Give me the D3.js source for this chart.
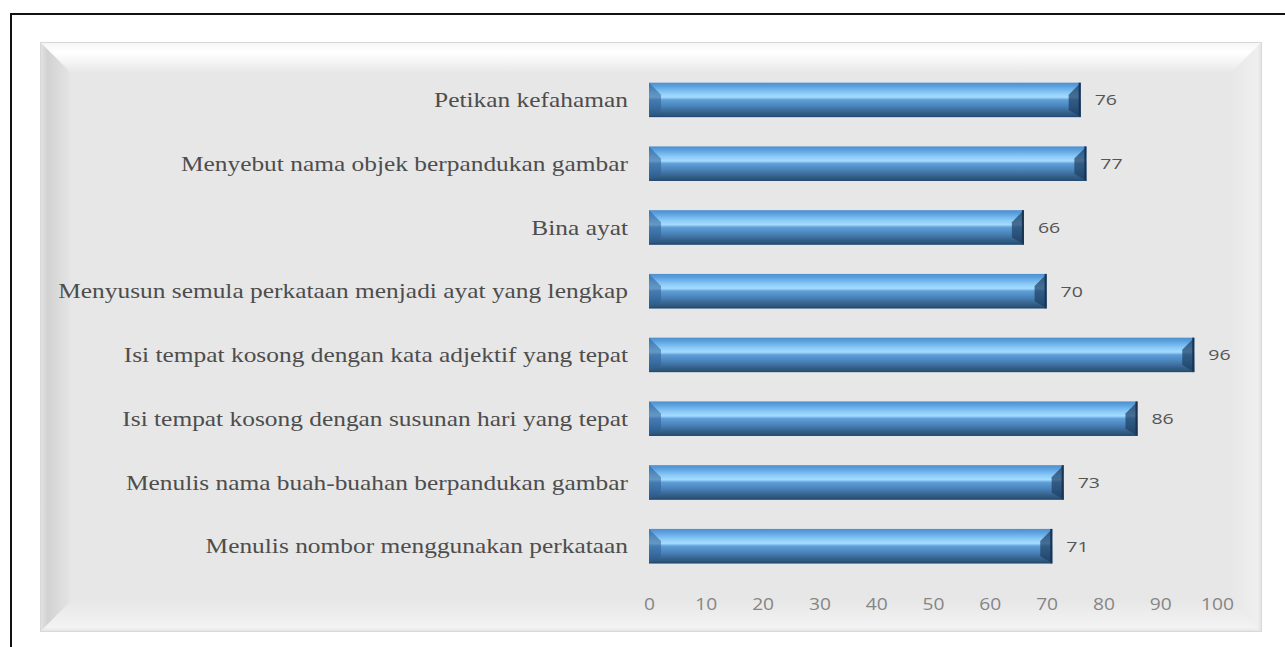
<!DOCTYPE html>
<html>
<head>
<meta charset="utf-8">
<script src="https://cdn.jsdelivr.net/npm/d3@7"></script>
<style>
  html, body { margin: 0; padding: 0; background: #ffffff; }
  svg { display: block; }
</style>
</head>
<body>
<svg id="chart" width="1285" height="647"></svg>
<script>
// Categories (top to bottom) and their scores
const categories = [
  "Petikan kefahaman",
  "Menyebut nama objek berpandukan gambar",
  "Bina ayat",
  "Menyusun semula perkataan menjadi ayat yang lengkap",
  "Isi tempat kosong dengan kata adjektif yang tepat",
  "Isi tempat kosong dengan susunan hari yang tepat",
  "Menulis nama buah-buahan berpandukan gambar",
  "Menulis nombor menggunakan perkataan"
];
const scores = [76, 77, 66, 70, 96, 86, 73, 71];
const tickValues = [0, 10, 20, 30, 40, 50, 60, 70, 80, 90, 100];

const svg = d3.select("#chart");
const defs = svg.append("defs");

// ---- Outer frame (top and left edges visible) ----
svg.append("line").attr("x1", 10).attr("y1", 14).attr("x2", 1285).attr("y2", 14)
  .attr("stroke", "#111").attr("stroke-width", 2);
svg.append("line").attr("x1", 11).attr("y1", 13).attr("x2", 11).attr("y2", 647)
  .attr("stroke", "#111").attr("stroke-width", 2);

// ---- Bevelled panel ----
const P = { x0: 40, y0: 42, x1: 1262, y1: 632, b: 30 };

function grad(id, x1, y1, x2, y2, stops) {
  const g = defs.append("linearGradient").attr("id", id)
    .attr("x1", x1).attr("y1", y1).attr("x2", x2).attr("y2", y2);
  stops.forEach(s => g.append("stop").attr("offset", s[0]).attr("stop-color", s[1]));
}
grad("bevTop", 0, 0, 0, 1, [[0, "#f4f4f4"], [0.35, "#ffffff"], [1, "#e8e8e8"]]);
grad("bevLeft", 0, 0, 1, 0, [[0, "#e4e4e4"], [0.25, "#d2d2d2"], [1, "#e4e4e4"]]);
grad("bevRight", 1, 0, 0, 0, [[0, "#e0e0e0"], [0.15, "#efefef"], [1, "#e8e8e8"]]);
grad("bevBottom", 0, 1, 0, 0, [[0, "#e2e2e2"], [0.15, "#f3f3f3"], [1, "#e8e8e8"]]);

svg.append("rect").attr("x", P.x0).attr("y", P.y0)
  .attr("width", P.x1 - P.x0).attr("height", P.y1 - P.y0).attr("fill", "#e7e7e7");

const pts = a => a.map(p => p.join(",")).join(" ");
svg.append("polygon").attr("points", pts([[P.x0, P.y0], [P.x1, P.y0], [P.x1 - P.b, P.y0 + P.b], [P.x0 + P.b, P.y0 + P.b]]))
  .attr("fill", "url(#bevTop)");
svg.append("polygon").attr("points", pts([[P.x0, P.y0], [P.x0 + P.b, P.y0 + P.b], [P.x0 + P.b, P.y1 - P.b], [P.x0, P.y1]]))
  .attr("fill", "url(#bevLeft)");
svg.append("polygon").attr("points", pts([[P.x1, P.y0], [P.x1, P.y1], [P.x1 - P.b, P.y1 - P.b], [P.x1 - P.b, P.y0 + P.b]]))
  .attr("fill", "url(#bevRight)");
svg.append("polygon").attr("points", pts([[P.x0, P.y1], [P.x0 + P.b, P.y1 - P.b], [P.x1 - P.b, P.y1 - P.b], [P.x1, P.y1]]))
  .attr("fill", "url(#bevBottom)");
svg.append("rect").attr("x", P.x0 + 0.5).attr("y", P.y0 + 0.5)
  .attr("width", P.x1 - P.x0 - 1).attr("height", P.y1 - P.y0 - 1)
  .attr("fill", "none").attr("stroke", "#d8d8d8").attr("stroke-width", 1);

// ---- Scales ----
const x = d3.scaleLinear().domain([0, 100]).range([649, 1217]);
const y = d3.scaleBand().domain(categories).range([68, 578]).paddingInner(0.46).paddingOuter(0.23);

// ---- Bar gradient (glossy bevel) ----
grad("barFill", 0, 0, 0, 1, [
  [0, "#4f8fcb"], [0.1, "#5aa0e0"], [0.3, "#8ccbf7"], [0.42, "#a6dbff"],
  [0.5, "#5d9fd8"], [0.7, "#4880b6"], [0.88, "#325f88"], [1, "#284f70"]
]);

const bars = svg.append("g");
categories.forEach((c, i) => {
  const x0 = x(0), x1 = x(scores[i]);
  const y0 = y(c), h = y.bandwidth(), y1 = y0 + h;
  const b = Math.min(12, h / 2);
  bars.append("rect").attr("x", x0).attr("y", y0).attr("width", x1 - x0).attr("height", h)
    .attr("fill", "url(#barFill)");
  // left bevel
  bars.append("polygon").attr("points", pts([[x0, y0], [x0 + b, y0 + b], [x0 + b, y1 - b * 0.6], [x0, y1]]))
    .attr("fill", "#2f5f93").attr("opacity", 0.55);
  // right bevel
  bars.append("polygon").attr("points", pts([[x1, y0], [x1, y1], [x1 - b, y1 - b * 0.6], [x1 - b, y0 + b]]))
    .attr("fill", "#1e3f63").attr("opacity", 0.7);
  bars.append("line").attr("x1", x1 - 1).attr("x2", x1 - 1).attr("y1", y0).attr("y2", y1)
    .attr("stroke", "#173453").attr("stroke-width", 2);
  bars.append("line").attr("x1", x0).attr("x2", x1).attr("y1", y1 - 0.5).attr("y2", y1 - 0.5)
    .attr("stroke", "#224a70").attr("stroke-width", 1);
});

// ---- Category labels (wide serif face) ----
svg.append("g").selectAll("text").data(categories).join("text")
  .attr("transform", d => `translate(628,${y(d) + y.bandwidth() / 2}) scale(1.21,1)`)
  .attr("dy", "0.35em")
  .attr("text-anchor", "end")
  .attr("font-family", "'Liberation Serif', 'Times New Roman', serif")
  .attr("font-size", 21)
  .attr("fill", "#4d4d4d")
  .text(d => d);

// ---- Value labels ----
svg.append("g").selectAll("text").data(categories).join("text")
  .attr("transform", (d, i) => `translate(${x(scores[i]) + 14},${y(d) + y.bandwidth() / 2}) scale(1.3,1)`)
  .attr("dy", "0.36em")
  .attr("font-family", "'Open Sans', 'Liberation Sans', sans-serif")
  .attr("font-size", 15)
  .attr("fill", "#555555")
  .text((d, i) => scores[i]);

// ---- X axis ----
const axis = d3.axisBottom(x).tickValues(tickValues).tickSize(0).tickPadding(0);
const ax = svg.append("g").attr("transform", "translate(0,599)").call(axis);
ax.select(".domain").remove();
ax.selectAll(".tick text")
  .attr("transform", "scale(1.2,1)")
  .attr("font-family", "'Open Sans', 'Liberation Sans', sans-serif")
  .attr("font-size", 16)
  .attr("fill", "#858585");
</script>
</body>
</html>
